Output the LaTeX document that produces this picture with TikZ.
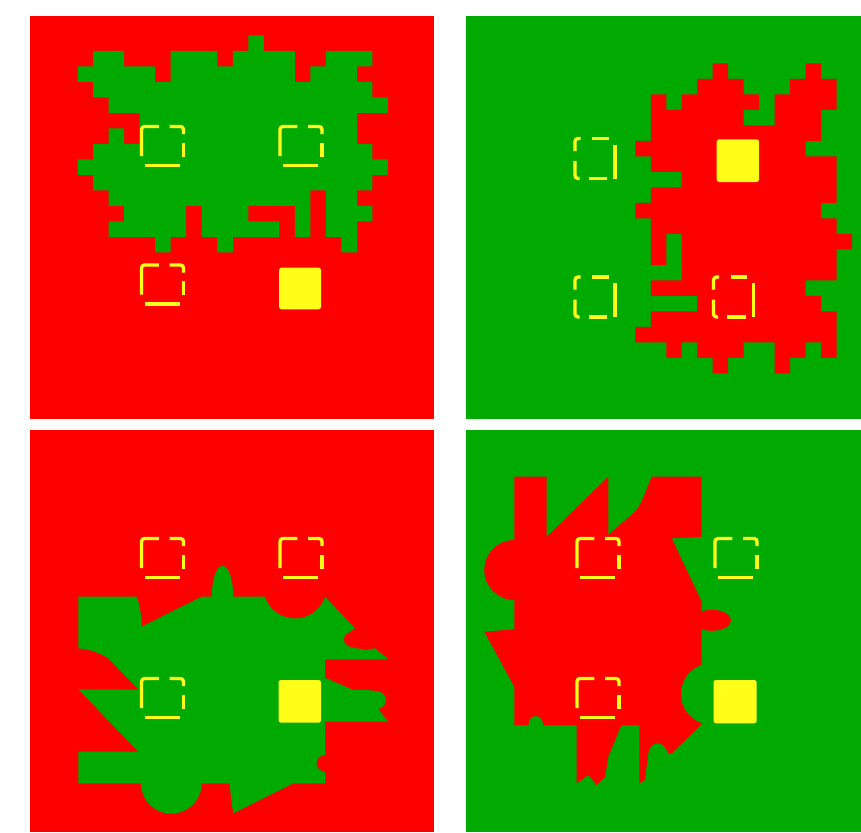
\documentclass[tikz,border=0pt]{standalone}
\definecolor{rd}{RGB}{255,0,0}
\definecolor{gn}{RGB}{0,170,0}
\definecolor{yl}{RGB}{255,255,25}
\newcommand\dsqTL[2]{\begin{scope}[shift={(#1pt,-#2pt)}]
 \draw[dsq,rounded corners=3pt] (0,29.5) -- (0,0) -- (17.4,0);
 \draw[dsq,rounded corners=3pt] (28,0) -- (42,0) -- (42,7.6);
 \draw[dsq] (42,16) -- (42,30.3);
 \draw[dsq] (3,39) -- (38,39);
\end{scope}}
\newcommand\dsqTR[2]{\begin{scope}[shift={(#1pt,-#2pt)}]
 \draw[dsq,rounded corners=3pt] (5.5,0) -- (0,0) -- (0,12.6);
 \draw[dsq] (17.2,0) -- (33.8,0);
 \draw[dsq] (40,6) -- (40,40);
 \draw[dsq] (13.8,40) -- (32.2,40);
 \draw[dsq,rounded corners=3pt] (0,22.6) -- (0,40) -- (4.5,40);
\end{scope}}
\begin{document}
\begin{tikzpicture}[x=1pt,y=-1pt,
  dsq/.style={draw=yl,line width=3.3pt},
  goal/.style={fill=yl,rounded corners=2.5pt}]
\useasboundingbox (0,0) rectangle (861,832);
\fill[white] (0,0) rectangle (861,832);
% panels
\fill[rd] (30,16) rectangle (434,419);
\fill[gn] (466,16) rectangle (861,419);
\fill[rd] (30,429.5) rectangle (434,832);
\fill[gn] (466,429.5) rectangle (861,832);
% top-left green blob (grid cells)
\begin{scope}[shift={(31pt,-19.8pt)},x=15.52pt,y=-15.5pt]
\fill[gn] \foreach \rw/\ca/\cb in {1/14/14, 2/4/5, 2/9/11, 2/13/16, 2/19/21,
  3/3/7, 3/9/16, 3/18/20, 4/4/21, 5/5/22, 6/7/20, 7/5/5, 7/7/20, 8/4/21,
  9/3/22, 10/4/21, 11/5/17, 11/19/20, 12/6/9, 12/11/13, 12/17/17, 12/19/21,
  13/5/9, 13/11/15, 13/17/17, 13/19/20, 14/8/8, 14/12/12, 14/20/20}
  { (\ca,\rw) rectangle ({\cb+1},{\rw+1}) };
\end{scope}
% top-right red blob (grid cells)
\begin{scope}[shift={(465pt,-16.8pt)},x=15.48pt,y=-15.5pt]
\fill[rd] \foreach \rw/\ca/\cb in {3/16/16, 3/22/22, 4/15/17, 4/21/23,
  5/12/12, 5/14/18, 5/20/23, 6/12/17, 6/20/22, 7/12/22, 8/11/21, 9/12/23,
  10/14/23, 11/12/23, 12/11/22, 13/12/23, 14/12/12, 14/14/24, 15/12/12,
  15/14/23, 16/14/23, 17/12/21, 18/15/22, 19/12/23, 20/11/23,
  21/13/13, 21/15/17, 21/20/21, 21/23/23, 22/16/16, 22/20/20}
  { (\ca,\rw) rectangle ({\cb+1},{\rw+1}) };
\end{scope}
% bottom-left green shape
\fill[gn] (78.3,596.7) -- (136.7,596.7) .. controls (140,606) and (141.5,616) .. (141.7,626.7)
  -- (201.7,596.7) -- (325,596.7) -- (355,628.3) -- (345,635)
  .. controls (342,641) and (345,646) .. (352,647.5) -- (366.7,650) -- (375,648.3)
  -- (388.3,659.3) -- (325,659.3) -- (325,677.7) -- (353.3,690)
  .. controls (362,690) and (376,689.5) .. (382,693) .. controls (388,697) and (388,705) .. (378.3,709.3)
  -- (388.3,721.7) -- (325,721.7) -- (325,783.3) -- (293.3,783.3) -- (233.3,813.3)
  .. controls (231,800) and (230,790) .. (230,783.3) -- (78.3,783.3) -- (78.3,751.7)
  -- (138.3,751.7) -- (78.3,689.3) -- (138.3,689.3) -- (108.3,658.3)
  .. controls (98,652) and (88,649) .. (78.3,648.3) -- cycle;
\fill[gn] (222.5,594) ellipse [x radius=10.5, y radius=28];
\fill[gn] (171.3,783.3) circle [radius=30.3];
\fill[rd] (295,586.7) circle [radius=31.6];
\fill[rd] (325,763.3) circle [radius=8.3];
% bottom-right red shape
\fill[rd] (514.3,476.7) -- (546.7,476.7) -- (546.7,536.7) -- (608.3,476.7) -- (608.3,535)
  -- (636.7,510) .. controls (643,500) and (647,488) .. (651.7,476.7) -- (701.7,476.7)
  -- (701.7,536.7) -- (671.7,538.3) -- (701.7,601.7) -- (701.7,724) -- (671.7,753.3)
  -- (668.3,753.3) .. controls (666,747) and (662,743) .. (657,743.3)
  .. controls (652,744) and (649,748) .. (648.3,753.3) -- (645,780) -- (639.3,783.3)
  -- (639.3,725) -- (621.7,725) -- (620,728.3) -- (608.3,756.7) -- (605,776.7)
  -- (596.7,785) -- (588.3,775) -- (576.7,783.3) -- (576.7,725) -- (543.3,725)
  .. controls (543,714) and (529,712) .. (528.3,725) -- (514.3,725) -- (514.3,686.7)
  -- (484.3,631.7) -- (514.3,629.3) -- cycle;
\fill[rd] (514.3,570) circle [radius=30];
\fill[rd] (712,620.3) ellipse [x radius=19, y radius=10.5];
\fill[gn] (711.7,694) circle [radius=30.7];
% yellow squares: top-left panel
\dsqTL{141.5}{126.5}
\dsqTL{280}{126.5}
\dsqTL{141.5}{265}
\fill[goal] (279,267.7) rectangle (321,309.3);
% top-right panel
\dsqTR{575}{138.5}
\dsqTR{575}{277}
\dsqTR{713.5}{277}
\fill[goal] (716.7,139.3) rectangle (759,182);
% bottom-left panel
\dsqTL{141.5}{538.5}
\dsqTL{280}{538.5}
\dsqTL{141.5}{678.5}
\fill[goal] (278.5,680) rectangle (321,722.7);
% bottom-right panel
\dsqTL{577}{538.5}
\dsqTL{715}{538.5}
\dsqTL{577}{678.5}
\fill[goal] (713.5,680) rectangle (756.7,723.3);
\end{tikzpicture}
\end{document}
